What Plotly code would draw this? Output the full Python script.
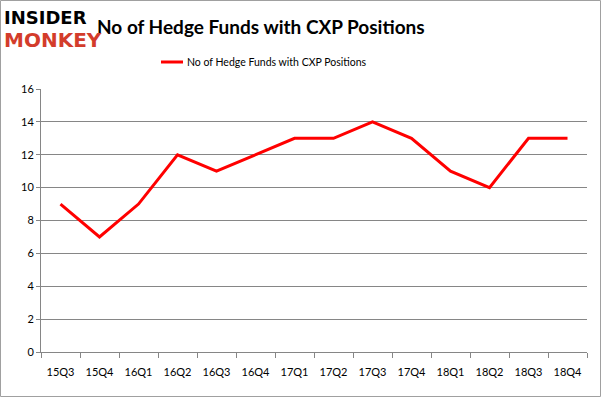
import plotly.graph_objects as go

quarters = ["15Q3","15Q4","16Q1","16Q2","16Q3","16Q4","17Q1","17Q2","17Q3","17Q4","18Q1","18Q2","18Q3","18Q4"]
funds = [9, 7, 9, 12, 11, 12, 13, 13, 14, 13, 11, 10, 13, 13]
y_ticks = [0, 2, 4, 6, 8, 10, 12, 14, 16]
series_name = "No of Hedge Funds with CXP Positions"

W, H = 602, 398
L, R, T, B = 41, 15, 89, 46
PW, PH = W - L - R, H - T - B

def px(x):
    return (x - L) / PW

def py(y):
    return (H - B - y) / PH

fig = go.Figure()
fig.add_trace(go.Scatter(x=quarters, y=funds, mode="lines", name=series_name,
                         line=dict(color="#ff0000", width=3), showlegend=False))

FONT = "Lato, Liberation Sans, sans-serif"
fig.update_layout(
    width=W, height=H,
    margin=dict(l=L, r=R, t=T, b=B, autoexpand=False),
    paper_bgcolor="white", plot_bgcolor="white",
    font=dict(family=FONT, size=11, color="black"),
    showlegend=False,
    title=dict(text="<b>No of Hedge Funds with CXP Positions</b>", x=97 / W, xanchor="left",
               y=1 - 27 / H, yanchor="middle",
               font=dict(family=FONT, size=19, color="black")),
)

fig.update_xaxes(type="category", showgrid=False, showline=True, linecolor="#868686", linewidth=1,
                 ticks="outside", tickson="boundaries", ticklen=5, tickcolor="#868686",
                 ticklabelstandoff=10, automargin=False,
                 range=[-0.5, len(quarters) - 0.5], fixedrange=True)
fig.update_yaxes(range=[0, 16], tickvals=y_ticks, showgrid=True, gridcolor="#868686", gridwidth=1,
                 showline=True, linecolor="#868686", ticks="outside", ticklen=4, tickcolor="#868686",
                 automargin=False, zeroline=False, fixedrange=True)

# outer border
fig.add_shape(type="rect", xref="paper", yref="paper",
              x0=px(0.5), x1=px(W - 1.5), y0=py(H - 1.5), y1=py(0.5),
              line=dict(color="#a0a0a0", width=1), fillcolor="rgba(0,0,0,0)", layer="below")

# legend (manual)
fig.add_shape(type="line", xref="paper", yref="paper",
              x0=px(161), x1=px(183), y0=py(62), y1=py(62),
              line=dict(color="#ff0000", width=3))
fig.add_annotation(text=series_name, xref="paper", yref="paper",
                   x=px(185), y=py(62), xanchor="left", yanchor="middle", showarrow=False,
                   font=dict(family=FONT, size=10.5, color="black"))

# logo
fig.add_annotation(text="<b>INSIDER</b>", xref="paper", yref="paper",
                   x=px(2), y=py(17), xanchor="left", yanchor="middle", showarrow=False,
                   font=dict(family="DejaVu Sans, sans-serif", size=18, color="black"))
fig.add_annotation(text="<b>MONKEY</b>", xref="paper", yref="paper",
                   x=px(2), y=py(40), xanchor="left", yanchor="middle", showarrow=False,
                   font=dict(family="DejaVu Sans, sans-serif", size=20, color="#d33c2b"))

fig.write_html("out.html", config={"displayModeBar": False},
               post_script="document.body.style.margin='0px';document.body.style.overflow='hidden';")
